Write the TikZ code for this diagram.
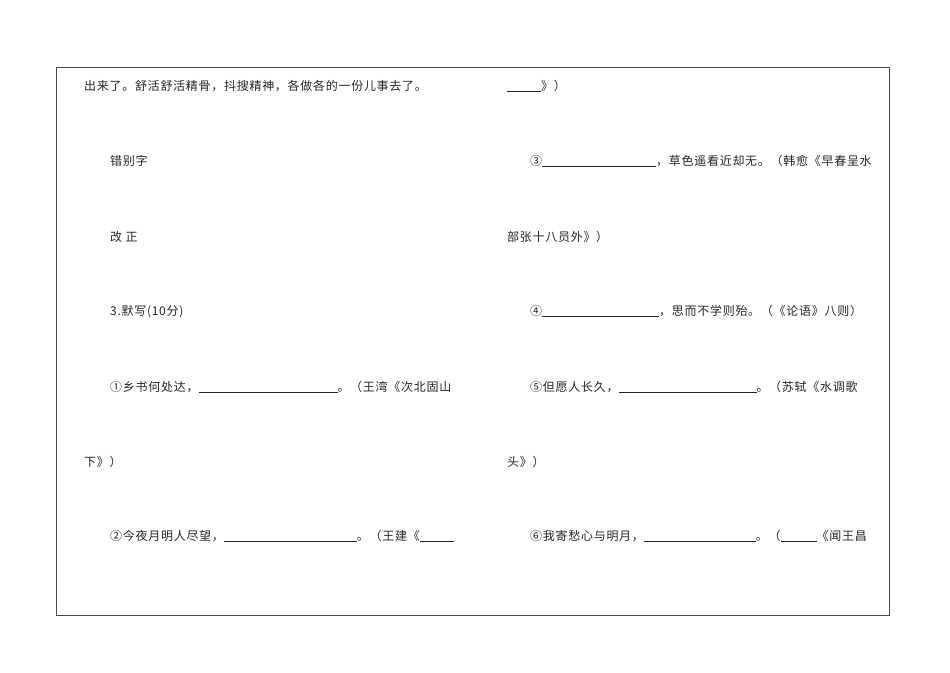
\documentclass[tikz,border=0pt]{standalone}
\usepackage{fontspec}
\setmainfont[LetterSpace=6]{Noto Sans CJK SC}
\newcommand{\blank}[1]{\rule[-1.5pt]{#1pt}{0.5pt}}
\begin{document}
\begin{tikzpicture}[x=1pt,y=-1pt,
  txt/.style={anchor=base west,inner sep=0pt,font=\fontsize{12}{14}\selectfont,text=black!85}]
\useasboundingbox (0,0) rectangle (950,672);
\draw[draw=black!70,line width=0.6pt] (56,67) rectangle (889,615);
\node[txt] (a1) at (84,90) {出来了。舒活舒活精骨，抖搜精神，各做各的一份儿事去了。};
\node[txt] (a2) at (110,165) {错别字};
\node[txt] (a3) at (110,241) {改 正};
\node[txt] (a4) at (110,315) {3.默写(10分)};
\node[txt] (a5) at (110,391) {①乡书何处达，\blank{139}。（王湾《次北固山};
\node[txt] (a6) at (84,466) {下》）};
\node[txt] (a7) at (110,540) {②今夜月明人尽望，\blank{133}。（王建《\blank{34}};
\node[txt] (b1) at (507,90) {\blank{34}》）};
\node[txt] (b2) at (530,165) {③\blank{114}，草色遥看近却无。（韩愈《早春呈水};
\node[txt] (b3) at (507,241) {部张十八员外》）};
\node[txt] (b4) at (530,315) {④\blank{117}，思而不学则殆。（《论语》八则）};
\node[txt] (b5) at (530,391) {⑤但愿人长久，\blank{138}。（苏轼《水调歌};
\node[txt] (b6) at (507,466) {头》）};
\node[txt] (b7) at (530,540) {⑥我寄愁心与明月，\blank{112}。（\blank{36}《闻王昌};
\end{tikzpicture}
\end{document}
